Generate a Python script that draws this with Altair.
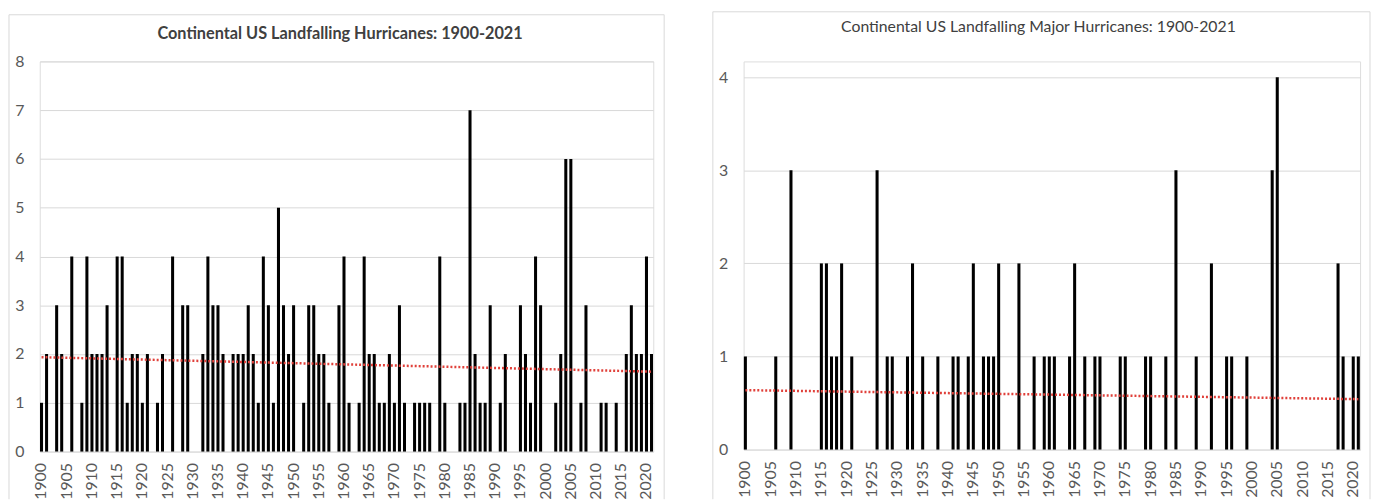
import altair as alt
import pandas as pd

years = list(range(1900, 2022))
tick_years = list(range(1900, 2021, 5))

hurricanes = [1, 2, 0, 3, 2, 0, 4, 0, 1, 4,
              2, 2, 2, 3, 0, 4, 4, 1, 2, 2,
              1, 2, 0, 1, 2, 0, 4, 0, 3, 3,
              0, 0, 2, 4, 3, 3, 2, 0, 2, 2,
              2, 3, 2, 1, 4, 3, 1, 5, 3, 2,
              3, 0, 1, 3, 3, 2, 2, 1, 0, 3,
              4, 1, 0, 1, 4, 2, 2, 1, 1, 2,
              1, 3, 1, 0, 1, 1, 1, 1, 0, 4,
              1, 0, 0, 1, 1, 7, 2, 1, 1, 3,
              0, 1, 2, 0, 0, 3, 2, 1, 4, 3,
              0, 0, 1, 2, 6, 6, 0, 1, 3, 0,
              0, 1, 1, 0, 1, 0, 2, 3, 2, 2,
              4, 2]

major = [1, 0, 0, 0, 0, 0, 1, 0, 0, 3,
         0, 0, 0, 0, 0, 2, 2, 1, 1, 2,
         0, 1, 0, 0, 0, 0, 3, 0, 1, 1,
         0, 0, 1, 2, 0, 1, 0, 0, 1, 0,
         0, 1, 1, 0, 1, 2, 0, 1, 1, 1,
         2, 0, 0, 0, 2, 0, 0, 1, 0, 1,
         1, 1, 0, 0, 1, 2, 0, 1, 0, 1,
         1, 0, 0, 0, 1, 1, 0, 0, 0, 1,
         1, 0, 0, 1, 0, 3, 0, 0, 0, 1,
         0, 0, 2, 0, 0, 1, 1, 0, 0, 1,
         0, 0, 0, 0, 3, 4, 0, 0, 0, 0,
         0, 0, 0, 0, 0, 0, 0, 2, 1, 0,
         1, 1]

title_left = "Continental US Landfalling Hurricanes: 1900-2021"
title_right = "Continental US Landfalling Major Hurricanes: 1900-2021"

GRID = "#d9d9d9"
LABEL = "#595959"


def panel(values, title, weight, tsize, ymax, ytop, width, height, frame, title_xy):
    df = pd.DataFrame({"year": years, "count": values})
    base = alt.Chart(df)
    x = alt.X("year:O",
              scale=alt.Scale(paddingInner=0.4, paddingOuter=0.05),
              axis=alt.Axis(values=tick_years, labelAngle=270, labelFontSize=16,
                            labelColor=LABEL, labelPadding=11, domain=False,
                            ticks=False, grid=False, title=None))
    y = alt.Y("count:Q",
              scale=alt.Scale(domain=[0, ytop], nice=False),
              axis=alt.Axis(values=list(range(ymax + 1)), format="d", labelFontSize=16,
                            labelColor=LABEL, labelPadding=16, domain=False,
                            ticks=False, gridColor=GRID, gridWidth=1, title=None))
    bars = base.mark_bar(color="black").encode(x=x, y=y)
    trend = base.transform_regression("year", "count").mark_line(
        color="#e0403a", strokeDash=[2, 2], strokeWidth=2.5
    ).encode(x="year:O", y="count:Q")

    one = alt.Chart(pd.DataFrame({"k": [0]}))
    l, r, t, b = frame
    fl = one.mark_rule(color=GRID, strokeWidth=1).encode(
        x=alt.value(l), y=alt.value(t), y2=alt.value(b))
    fr = one.mark_rule(color=GRID, strokeWidth=1).encode(
        x=alt.value(r), y=alt.value(t), y2=alt.value(b))
    ft = one.mark_rule(color=GRID, strokeWidth=1).encode(
        y=alt.value(t), x=alt.value(l), x2=alt.value(r))
    txt = one.mark_text(text=title, fontSize=tsize, fontWeight=weight,
                        color="#404040", align="center", baseline="middle").encode(
        x=alt.value(title_xy[0]), y=alt.value(title_xy[1]))
    return alt.layer(fl, fr, ft, txt, bars, trend).properties(width=width, height=height)


left = panel(hurricanes, title_left, "bold", 16.4, 8, 8, 618, 393,
             (-31, 629, -47, 441), (302.5, -28))
right = panel(major, title_right, "normal", 15.9, 4, 4.17, 621, 391,
              (-31, 631, -50, 441), (297, -35))

chart = alt.hconcat(left, right, spacing=47).properties(
    padding={"left": 0, "top": 1, "right": 0, "bottom": 0}
).configure_view(strokeWidth=0).configure(font="Lato")

chart.save("out.html", embed_options={"renderer": "svg", "actions": False})
